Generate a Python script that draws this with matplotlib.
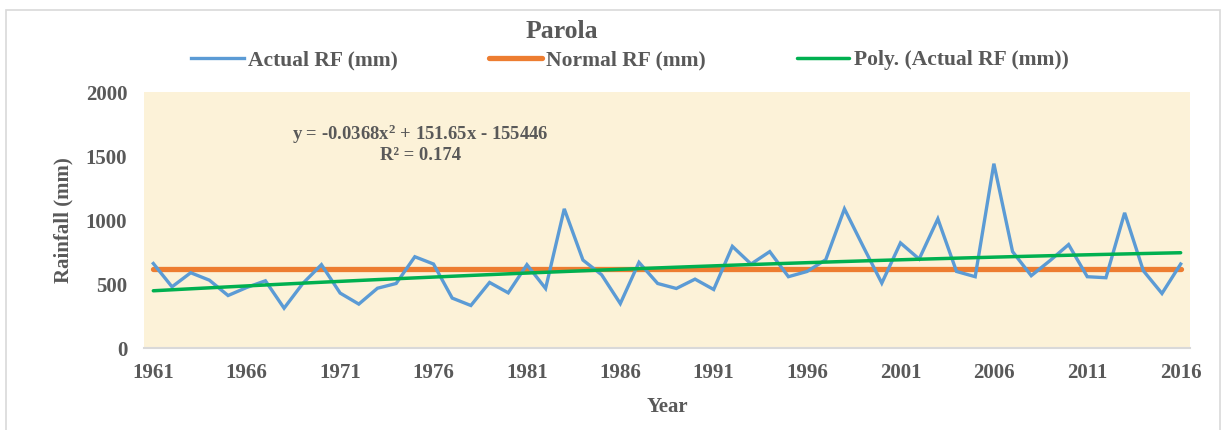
import numpy as np
import matplotlib
matplotlib.use("Agg")
import matplotlib.pyplot as plt
from matplotlib.patches import Rectangle

# Parola rainfall
years = list(range(1961, 2017))
actual_rf = [660, 478, 588, 530, 410, 473, 525, 311, 504, 651,
             429, 343, 467, 504, 713, 656, 390, 332, 512, 431,
             651, 465, 1087, 687, 572, 347, 669, 504, 465, 538,
             457, 794, 656, 753, 557, 598, 690, 1087, 794, 507,
             821, 695, 1009, 598, 557, 1440, 753, 565, 682, 808,
             557, 549, 1056, 604, 426, 656]
normal_rf = 617
tick_years = [1961, 1966, 1971, 1976, 1981, 1986, 1991, 1996, 2001, 2006, 2011, 2016]
y_ticks = [0, 500, 1000, 1500, 2000]
eq_text = "y = -0.0368x$^{2}$ + 151.65x - 155446\nR² = 0.174"

txt = "#595959"
plt.rcParams['font.family'] = ['Liberation Serif', 'DejaVu Serif']
plt.rcParams['font.weight'] = 'bold'
plt.rcParams['mathtext.fontset'] = 'custom'
plt.rcParams['mathtext.rm'] = 'Liberation Serif:bold'
plt.rcParams['mathtext.it'] = 'Liberation Serif:bold'
plt.rcParams['mathtext.bf'] = 'Liberation Serif:bold'

fig = plt.figure(figsize=(12.24, 4.30), dpi=100)
# chart border
fig.patches.append(Rectangle((6/1224, -0.01), (1220-6)/1224, 1-10/430+0.01,
                             transform=fig.transFigure, fill=False,
                             edgecolor="#D9D9D9", linewidth=1.2))

ax = fig.add_axes([144/1224, 1-348/430, (1190-144)/1224, (348-92)/430])
ax.set_facecolor("#FCF2D8")

yr = np.array(years)
rf = np.array(actual_rf)
# 2nd order trend, like Excel's poly trendline
c = np.polyfit(yr - 1988, rf, 2)
trend = np.polyval(c, yr - 1988)

l1, = ax.plot(yr, rf, color="#5B9BD5", lw=2.4, solid_joinstyle="miter", zorder=3)
l2, = ax.plot(yr, [normal_rf]*len(yr), color="#ED7D31", lw=3.8, solid_capstyle="round", zorder=2)
l3, = ax.plot(yr, trend, color="#00B050", lw=2.5, solid_capstyle="round", zorder=4)

ax.set_xlim(1960.5, 2016.5)
ax.set_ylim(0, 2000)
ax.set_xticks(tick_years)
ax.set_yticks(y_ticks)
ax.tick_params(length=0, labelsize=15, labelcolor=txt)
ax.tick_params(axis='x', pad=11)
ax.tick_params(axis='y', pad=12)
for s in ["top", "right", "left"]:
    ax.spines[s].set_visible(False)
ax.spines["bottom"].set_color("#D9D9D9")
ax.spines["bottom"].set_linewidth(1.5)

ax.text(1975.3, 1600, eq_text, ha="center", va="center", fontsize=13.4,
        color=txt, linespacing=1.1)

fig.text(562/1224, 1-32/430, "Parola", ha="center", va="center", fontsize=18.5, color=txt)
fig.text(667/1224, 1-407/430, "Year", ha="center", va="center", fontsize=15, color=txt)
fig.text(63/1224, 1-220/430, "Rainfall (mm)", ha="center", va="center", rotation=90,
         fontsize=15, color=txt)

leg = fig.legend([l1, l2, l3], ["Actual RF (mm)", "Normal RF (mm)", "Poly. (Actual RF (mm))"],
                 loc="center", bbox_to_anchor=(630/1224, 1-60/430), ncol=3, frameon=False,
                 fontsize=15.5, handlelength=2.45, handletextpad=0.23, columnspacing=4.2)
for t in leg.get_texts():
    t.set_color(txt)

fig.savefig("out.png", dpi=100)
